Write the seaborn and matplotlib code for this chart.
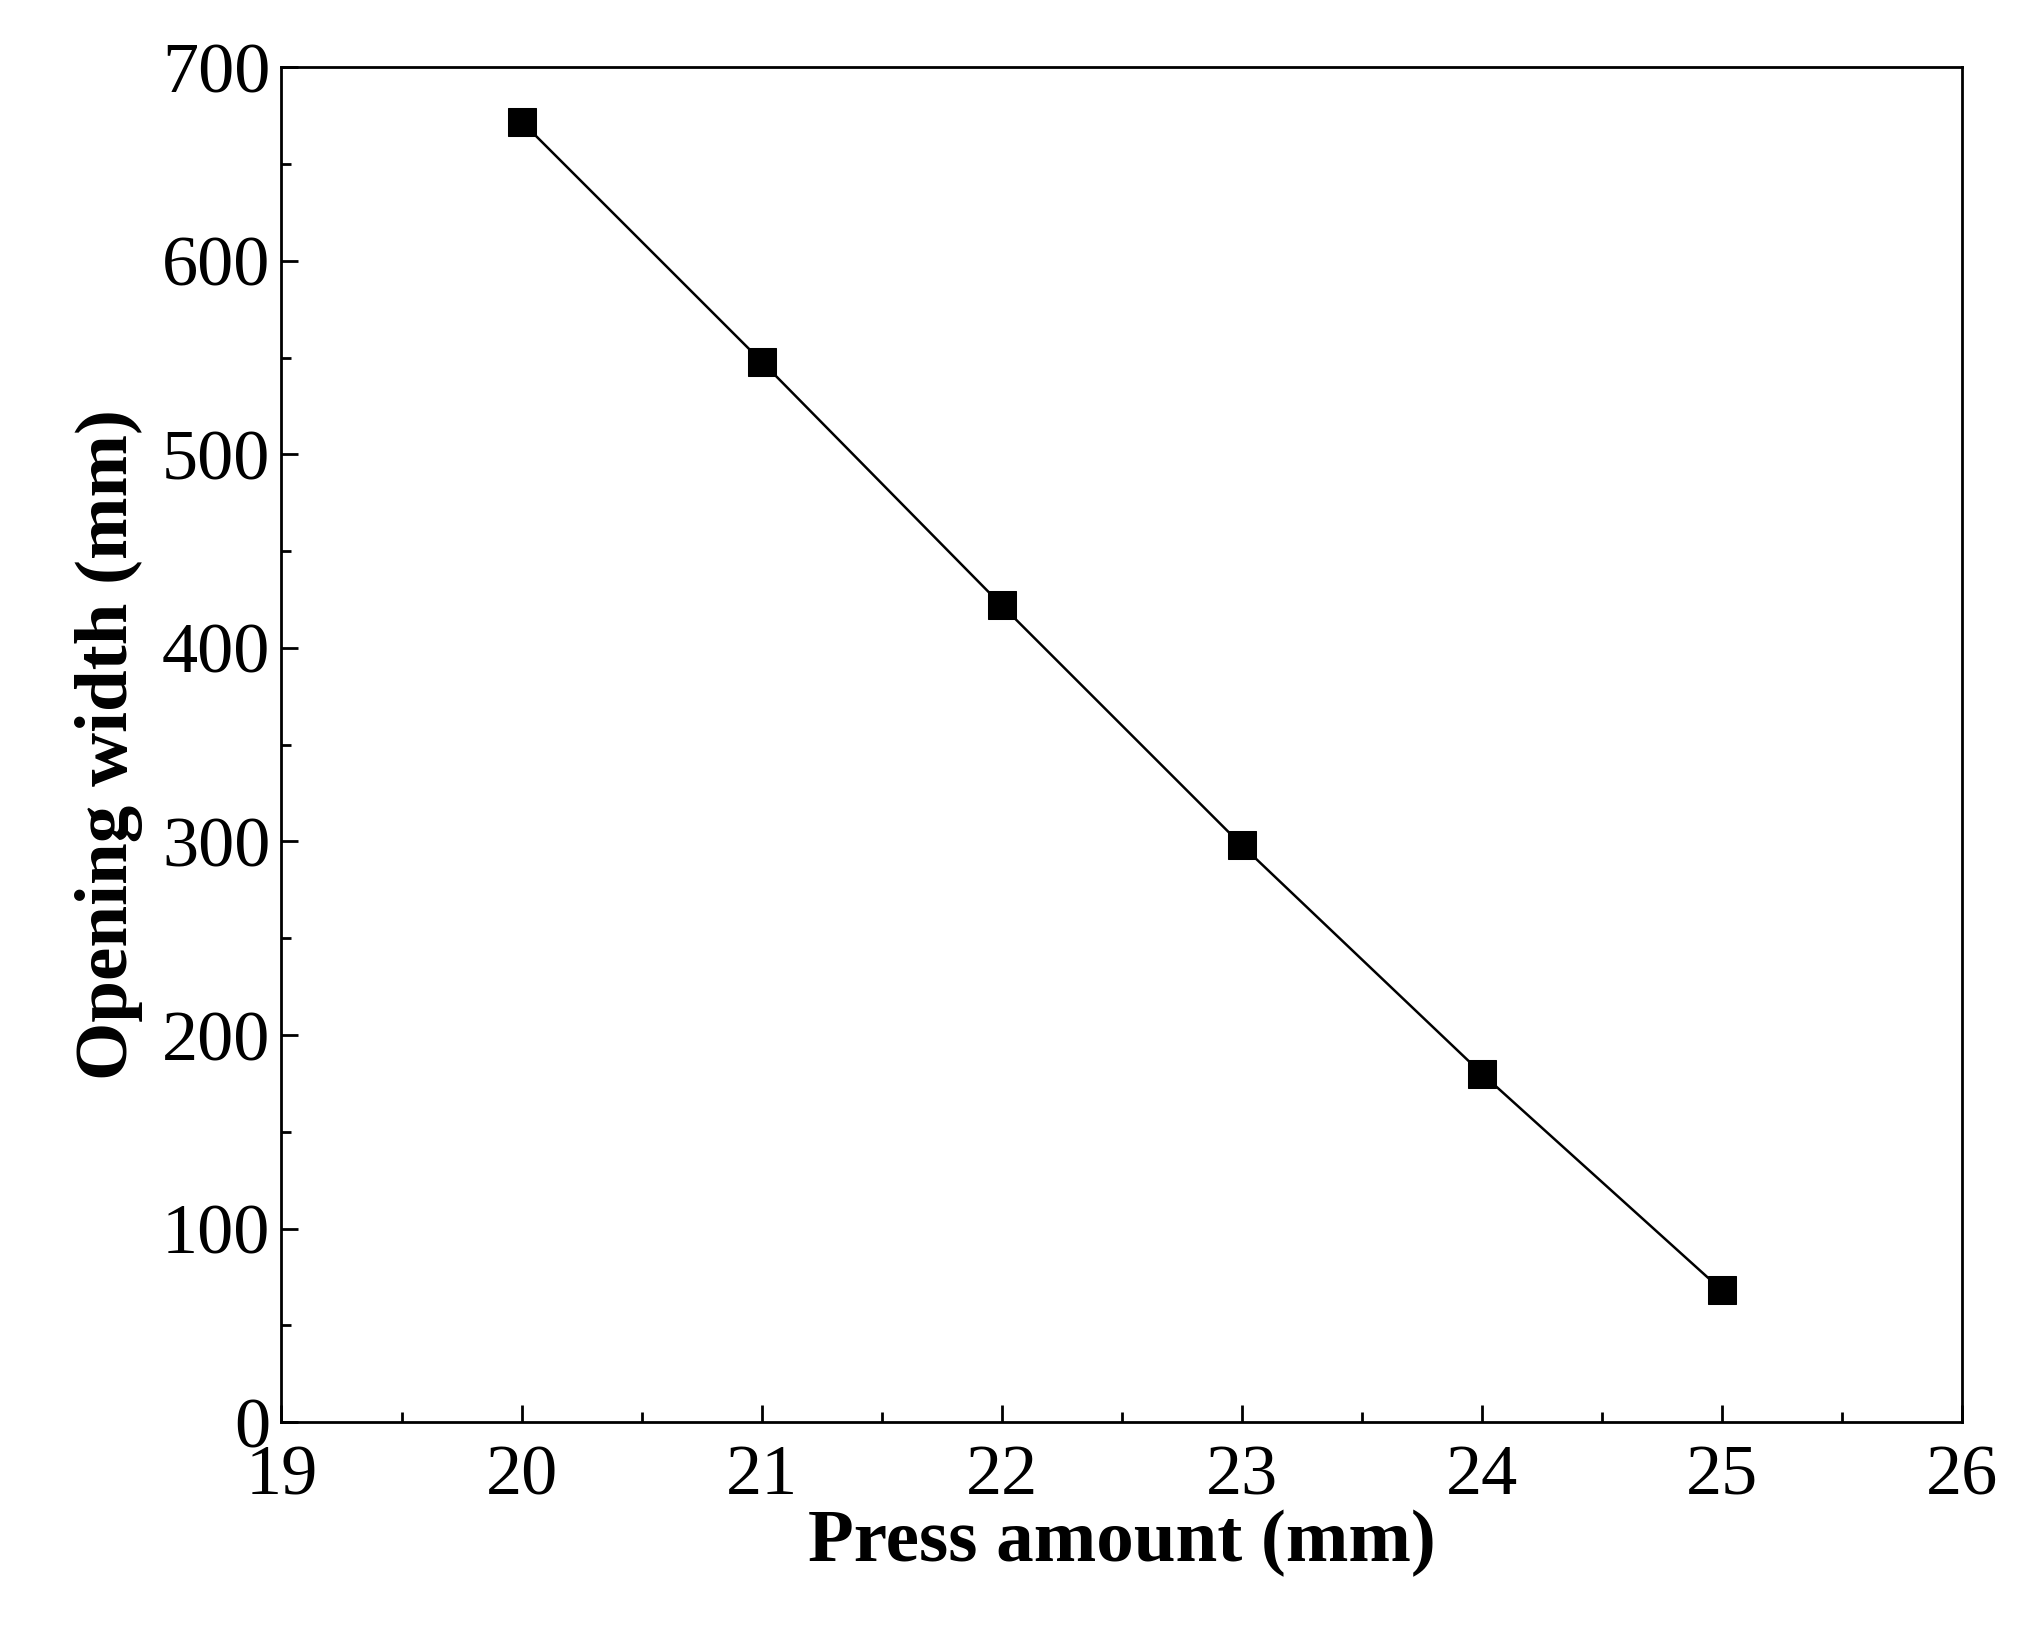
import matplotlib
matplotlib.use("Agg")
import matplotlib.pyplot as plt
import seaborn as sns
import pandas as pd
from matplotlib.ticker import MultipleLocator

press = [20, 21, 22, 23, 24, 25]
width = [672, 548, 422, 298, 180, 68]

sns.set_theme(style="ticks")
plt.rcParams['font.family'] = ['Liberation Serif', 'DejaVu Serif']

df = pd.DataFrame({"press": press, "width": width})

fig = plt.figure(figsize=(20.25, 16.44), dpi=100)
ax = fig.add_axes([0.139, 0.135, 0.830, 0.824])
sns.lineplot(data=df, x="press", y="width", ax=ax, color="black", lw=1.8,
             marker="s", markersize=20, markeredgecolor="black", markerfacecolor="black")

ax.set_xlim(19, 26)
ax.set_ylim(0, 700)
ax.xaxis.set_major_locator(MultipleLocator(1))
ax.xaxis.set_minor_locator(MultipleLocator(0.5))
ax.yaxis.set_major_locator(MultipleLocator(100))
ax.yaxis.set_minor_locator(MultipleLocator(50))
ax.tick_params(which="both", direction="in", width=2, labelsize=52, colors="black")
ax.tick_params(which="major", length=12)
ax.tick_params(axis="x", which="major", pad=16)
ax.tick_params(axis="y", which="major", pad=8)
ax.tick_params(which="minor", length=7)
for s in ax.spines.values():
    s.set_linewidth(2)
    s.set_color("black")
ax.set_xlabel("Press amount (mm)", fontsize=54, fontweight="bold", labelpad=0, color="black")
ax.set_ylabel("Opening width (mm)", fontsize=54, fontweight="bold", labelpad=14, color="black")

fig.savefig("out.png", dpi=100, facecolor="white")
